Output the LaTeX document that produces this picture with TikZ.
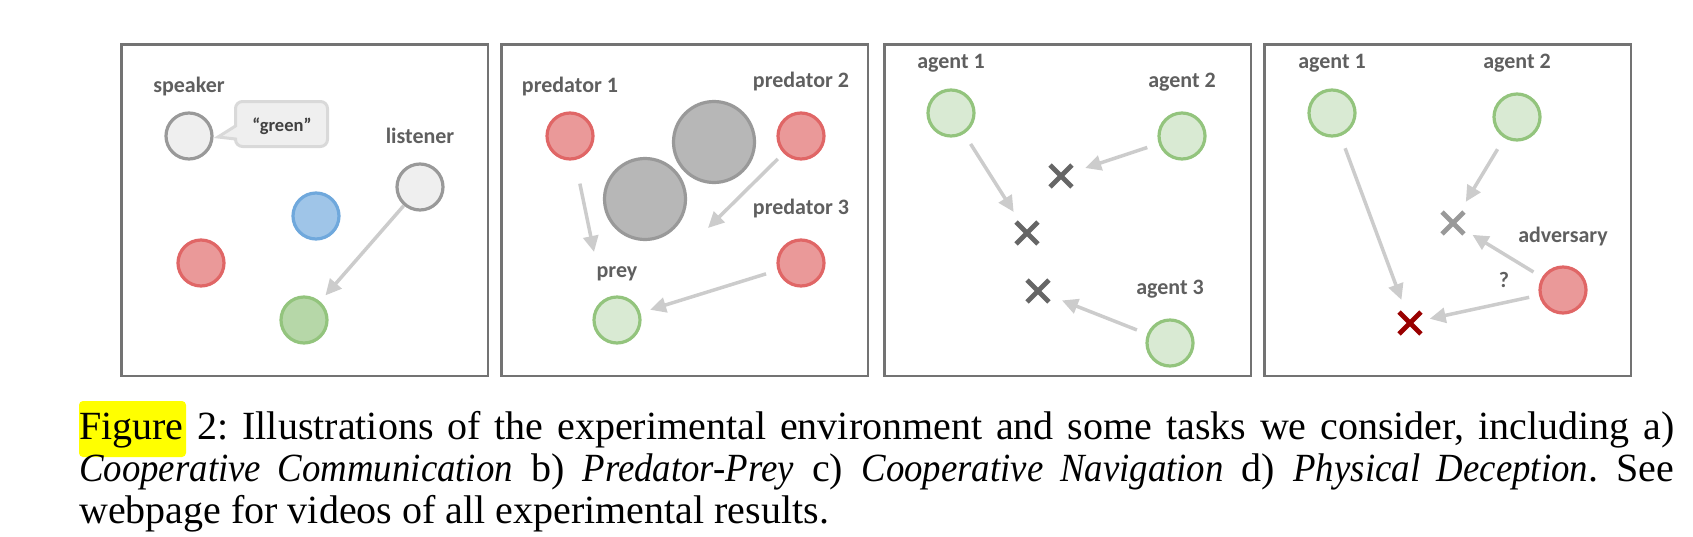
\documentclass[tikz,border=0pt]{standalone}
\usepackage{fontspec}
\setmainfont{Liberation Serif}[ItalicFeatures={FakeStretch=0.92}]
\newfontfamily\tagfont{Carlito}
\usetikzlibrary{arrows.meta,shapes.misc,positioning}
\frenchspacing

\definecolor{framec}{HTML}{737373}
\definecolor{tagc}{HTML}{5F5F5F}
\definecolor{wordc}{HTML}{404040}
\definecolor{movec}{HTML}{CCCCCC}
\definecolor{greyfill}{HTML}{EFEFEF}
\definecolor{greyline}{HTML}{999999}
\definecolor{redfill}{HTML}{EA9999}
\definecolor{redline}{HTML}{E06666}
\definecolor{bluefill}{HTML}{9FC5E8}
\definecolor{blueline}{HTML}{6FA8DC}
\definecolor{greenfill}{HTML}{B6D7A8}
\definecolor{lightgreen}{HTML}{D9EAD3}
\definecolor{greenline}{HTML}{93C47D}
\definecolor{rockfill}{HTML}{B7B7B7}
\definecolor{markc}{HTML}{666666}
\definecolor{goalred}{HTML}{990000}
\definecolor{bubbleline}{HTML}{D9D9D9}
\definecolor{hilite}{HTML}{FFFF00}

\tikzset{
  frame/.style={draw=framec, line width=2.5pt},
  agent/.style={circle, minimum size=46pt, inner sep=0pt, line width=3.2pt},
  greyagent/.style={agent, fill=greyfill, draw=greyline},
  redagent/.style={agent, fill=redfill, draw=redline},
  blueagent/.style={agent, fill=bluefill, draw=blueline},
  greenagent/.style={agent, fill=greenfill, draw=greenline},
  preyagent/.style={agent, fill=lightgreen, draw=greenline},
  rock/.style={circle, minimum size=81pt, inner sep=0pt, line width=3.2pt, fill=rockfill, draw=greyline},
  tag/.style={font=\tagfont\bfseries\fontsize{22}{24}\selectfont, text=tagc, anchor=base, inner sep=0pt},
  goal/.style={cross out, draw=markc, line width=4.8pt, minimum size=17pt, inner sep=0pt},
  move/.style={draw=movec, line width=3.5pt, -{Triangle[length=16pt,width=15pt]}},
  caption/.style={text width=1595pt, align=justify, inner sep=0pt, font=\fontsize{40}{42}\selectfont}
}

\begin{document}
\begin{tikzpicture}[x=1pt, y=-1pt]
    \useasboundingbox (0,0) rectangle (1693,536);

    % Panels
    \foreach \x in {121.5,501.5,884.5,1264.5}
        \draw[frame] (\x,44.5) rectangle ++(366.5,331.5);

    % a) Cooperative Communication
    \node[greyagent] (spk) at (189,136) {};
    \node[tag] (spkT) at (189,92) {speaker};
    \draw[fill=greyfill, draw=bubbleline, line width=3pt]
        (235.5,126) -- (218,137) -- (235.5,139) [rounded corners=7pt] -- (235.5,146.5)
        -- (327.5,146.5) -- (327.5,101.5) -- (235.5,101.5) [sharp corners] -- cycle;
    \node[tag, text=wordc, font=\tagfont\bfseries\fontsize{18.5}{20}\selectfont] (word) at (282,131) {“green”};
    \node[greyagent] (lst) at (420,187) {};
    \node[tag] (lstT) at (420,143) {listener};
    \node[blueagent] (lmkB) at (316,216) {};
    \node[redagent] (lmkR) at (201,263) {};
    \node[greenagent] (lmkG) at (304,320) {};
    \draw[move, shorten >=8pt] (lst) -- (lmkG);

    % b) Predator-Prey
    \node[rock] (rockA) at (714,142) {};
    \node[rock] (rockB) at (645,199) {};
    \node[redagent] (pred1) at (570,136) {};
    \node[tag] (pred1T) at (570,92) {predator 1};
    \node[redagent] (pred2) at (801,136) {};
    \node[tag] (pred2T) at (801,87) {predator 2};
    \node[redagent] (pred3) at (801,263) {};
    \node[tag] (pred3T) at (801,214) {predator 3};
    \node[preyagent] (prey) at (617,320) {};
    \node[tag] (preyT) at (617,277) {prey};
    \coordinate (pred1goal) at (594,252);
    \coordinate (pred2goal) at (708,228);
    \draw[move, shorten <=24pt] (pred1) -- (pred1goal);
    \draw[move, shorten <=8pt] (pred2) -- (pred2goal);
    \draw[move, shorten <=12pt, shorten >=10pt] (pred3) -- (prey);

    % c) Cooperative Navigation
    \node[preyagent] (nav1) at (951,113) {};
    \node[tag] (nav1T) at (951,68) {agent 1};
    \node[preyagent] (nav2) at (1182,136) {};
    \node[tag] (nav2T) at (1182,87) {agent 2};
    \node[preyagent] (nav3) at (1170,343) {};
    \node[tag] (nav3T) at (1170,294) {agent 3};
    \node[goal] (lmk1) at (1061,176) {};
    \node[goal] (lmk2) at (1027,233) {};
    \node[goal] (lmk3) at (1038,291) {};
    \draw[move, shorten <=12pt, shorten >=12pt] (nav1) -- (lmk2);
    \draw[move, shorten <=12pt, shorten >=14pt] (nav2) -- (lmk1);
    \draw[move, shorten <=11pt, shorten >=14pt] (nav3) -- (lmk3);

    % d) Physical Deception
    \node[preyagent] (good1) at (1332,113) {};
    \node[tag] (good1T) at (1332,68) {agent 1};
    \node[preyagent] (good2) at (1517,117) {};
    \node[tag] (good2T) at (1517,68) {agent 2};
    \node[redagent] (adv) at (1563,290) {};
    \node[tag] (advT) at (1563,242) {adversary};
    \node[goal, draw=greyline] (fake) at (1453,223) {};
    \node[goal, draw=goalred] (target) at (1410,323) {};
    \node[tag] (guess) at (1504,287) {?};
    \draw[move, shorten <=13pt, shorten >=13pt] (good1) -- (target);
    \draw[move, shorten <=13pt, shorten >=12pt] (good2) -- (fake);
    \draw[move, shorten <=10pt, shorten >=10pt] (adv) -- (fake);
    \draw[move, shorten <=10pt, shorten >=9pt] (adv) -- (target);

    % Caption
    \fill[hilite, rounded corners=4pt] (79,401) rectangle (186,457);
    \node[caption, anchor=base west] (cap) at (79,439) {Figure 2: Illustrations of the experimental environment and some tasks we consider, including a)\linebreak \textit{Cooperative Communication} b) \textit{Predator-Prey} c) \textit{Cooperative Navigation} d) \textit{Physical Deception}. See\linebreak webpage for videos of all experimental results.};
\end{tikzpicture}
\end{document}
